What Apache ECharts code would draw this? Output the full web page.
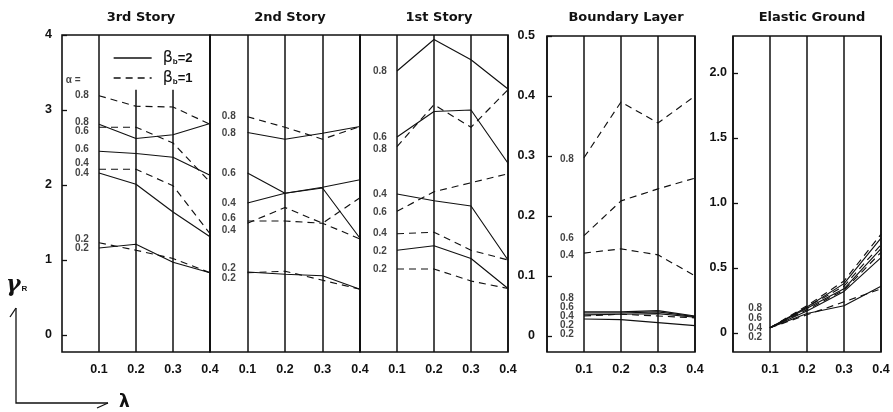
<!DOCTYPE html>
<html>
<head>
<meta charset="utf-8">
<title>Response ratio by story</title>
<script src="https://cdn.jsdelivr.net/npm/echarts@6/dist/echarts.min.js"></script>
<style>
  html, body { margin: 0; padding: 0; background: #fff; }
  #chart { width: 893px; height: 412px; }
</style>
</head>
<body>
<div id="chart"></div>
<script>
// Abscissa: lambda values where every curve is sampled
const lambda = [0.1, 0.2, 0.3, 0.4];

// Row order in every table below: alpha = 0.8, 0.6, 0.4, 0.2
// Solid curves are beta_b = 2, dashed curves are beta_b = 1
const story3Beta2 = [
  [2.81, 2.62, 2.67, 2.82],
  [2.45, 2.42, 2.37, 2.13],
  [2.16, 2.01, 1.64, 1.31],
  [1.16, 1.21, 0.97, 0.83]
];
const story3Beta1 = [
  [3.19, 3.05, 3.04, 2.81],
  [2.77, 2.77, 2.56, 2.04],
  [2.21, 2.21, 1.99, 1.35],
  [1.23, 1.13, 1.02, 0.83]
];

const story2Beta2 = [
  [2.70, 2.61, 2.69, 2.78],
  [2.16, 1.89, 1.96, 1.29],
  [1.76, 1.89, 1.97, 2.07],
  [0.84, 0.81, 0.79, 0.61]
];
const story2Beta1 = [
  [2.91, 2.77, 2.61, 2.78],
  [1.49, 1.70, 1.49, 1.83],
  [1.52, 1.52, 1.49, 1.28],
  [0.83, 0.85, 0.73, 0.61]
];

const story1Beta2 = [
  [3.52, 3.94, 3.67, 3.28],
  [2.64, 2.98, 3.00, 2.29],
  [1.88, 1.79, 1.72, 1.00],
  [1.13, 1.19, 1.02, 0.62]
];
const story1Beta1 = [
  [2.51, 3.07, 2.77, 3.27],
  [1.65, 1.91, 2.03, 2.15],
  [1.35, 1.37, 1.13, 1.00],
  [0.88, 0.88, 0.72, 0.62]
];

const layerBeta2 = [
  [0.040, 0.040, 0.042, 0.033],
  [0.038, 0.038, 0.040, 0.032],
  [0.035, 0.036, 0.037, 0.031],
  [0.028, 0.027, 0.022, 0.017]
];
const layerBeta1 = [
  [0.297, 0.390, 0.355, 0.400],
  [0.167, 0.225, 0.245, 0.263],
  [0.138, 0.145, 0.135, 0.100],
  [0.033, 0.036, 0.033, 0.030]
];

const groundBeta2 = [
  [0.04, 0.20, 0.38, 0.73],
  [0.04, 0.19, 0.34, 0.65],
  [0.04, 0.17, 0.32, 0.58],
  [0.04, 0.15, 0.21, 0.36]
];
const groundBeta1 = [
  [0.04, 0.21, 0.40, 0.76],
  [0.04, 0.20, 0.36, 0.68],
  [0.04, 0.18, 0.33, 0.62],
  [0.04, 0.14, 0.24, 0.34]
];

// alpha tags written beside the curves (text, height on the panel's own scale)
const story3Tags = [['0.8', 3.19], ['0.8', 2.84], ['0.6', 2.72], ['0.6', 2.48], ['0.4', 2.29], ['0.4', 2.16], ['0.2', 1.27], ['0.2', 1.16]];
const story2Tags = [['0.8', 2.92], ['0.8', 2.69], ['0.6', 2.16], ['0.4', 1.76], ['0.6', 1.55], ['0.4', 1.39], ['0.2', 0.89], ['0.2', 0.76]];
const story1Tags = [['0.8', 3.52], ['0.6', 2.64], ['0.8', 2.47], ['0.4', 1.88], ['0.6', 1.63], ['0.4', 1.35], ['0.2', 1.11], ['0.2', 0.87]];
const layerTags  = [['0.8', 0.295], ['0.6', 0.163], ['0.4', 0.135], ['0.8', 0.063], ['0.6', 0.048], ['0.4', 0.033], ['0.2', 0.017], ['0.2', 0.002]];
const groundTags = [['0.8', 0.19], ['0.6', 0.115], ['0.4', 0.04], ['0.2', -0.03]];

// Tick values for the y axes that carry labels
const storyTicks  = [0, 1, 2, 3, 4];
const layerTicks  = [0, 0.1, 0.2, 0.3, 0.4, 0.5];
const groundTicks = [0, 0.5, 1.0, 1.5, 2.0];

const panelTitles = ['3rd Story', '2nd Story', '1st Story', 'Boundary Layer', 'Elastic Ground'];

const INK = '#111';
const LABEL_FONT = 'Liberation Sans, Arial, sans-serif';

const panels = [
  { left: 62,  top: 35, width: 148, height: 317, yMin: -0.227, yMax: 4,     ticks: storyTicks,  b2: story3Beta2, b1: story3Beta1, tags: story3Tags, tagX: 0.054, labelMargin: 10 },
  { left: 210, top: 35, width: 150, height: 317, yMin: -0.227, yMax: 4,     ticks: null,        b2: story2Beta2, b1: story2Beta1, tags: story2Tags, tagX: 0.050 },
  { left: 360, top: 35, width: 148, height: 317, yMin: -0.227, yMax: 4,     ticks: null,        b2: story1Beta2, b1: story1Beta1, tags: story1Tags, tagX: 0.054 },
  { left: 547, top: 36, width: 148, height: 316, yMin: -0.027, yMax: 0.5,   ticks: layerTicks,  b2: layerBeta2,  b1: layerBeta1,  tags: layerTags,  tagX: 0.054, labelMargin: 12 },
  { left: 733, top: 36, width: 148, height: 316, yMin: -0.146, yMax: 2.285, ticks: groundTicks, b2: groundBeta2, b1: groundBeta1, tags: groundTags, tagX: 0.060, labelMargin: 6 }
];

const grid = [], xAxis = [], yAxis = [], series = [], title = [];

panels.forEach((p, i) => {
  grid.push({
    left: p.left, top: p.top, width: p.width, height: p.height,
    show: true, borderColor: INK, borderWidth: 1.6, backgroundColor: 'transparent',
    containLabel: false
  });

  xAxis.push({
    type: 'value', gridIndex: i, min: 0, max: 0.4, interval: 0.1,
    axisLine: { show: false }, axisTick: { show: false },
    splitLine: { show: i !== 0, lineStyle: { color: INK, width: 1.5 } },
    axisLabel: {
      margin: 11, color: INK, fontFamily: LABEL_FONT, fontWeight: 'bold', fontSize: 12.5,
      formatter: v => (v === 0 ? '' : v.toFixed(1))
    }
  });

  const yBase = {
    type: 'value', gridIndex: i, min: p.yMin, max: p.yMax,
    splitLine: { show: false }, axisLine: { show: false }
  };
  if (p.ticks) {
    const intOnly = i === 0;
    yAxis.push(Object.assign(yBase, {
      axisTick: { show: true, inside: true, length: 5, customValues: p.ticks, lineStyle: { color: INK, width: 1.3 } },
      axisLabel: {
        show: true, customValues: p.ticks, margin: p.labelMargin,
        color: INK, fontFamily: LABEL_FONT, fontWeight: 'bold', fontSize: 12.5,
        formatter: v => (v === 0 ? '0' : (intOnly ? String(v) : v.toFixed(1)))
      }
    }));
  } else {
    yAxis.push(Object.assign(yBase, { axisTick: { show: false }, axisLabel: { show: false } }));
  }

  title.push({
    text: panelTitles[i],
    left: p.left + p.width / 2, top: 6, textAlign: 'center',
    textStyle: { fontFamily: 'DejaVu Sans, sans-serif', fontWeight: 'bold', fontSize: 13, color: INK }
  });

  // curves
  [['βb=2', p.b2, 'solid'], ['βb=1', p.b1, 'dashed']].forEach(([name, rows, kind]) => {
    rows.forEach(row => {
      series.push({
        type: 'line', name: name, xAxisIndex: i, yAxisIndex: i,
        data: row.map((v, k) => [lambda[k], v]),
        symbol: 'none', silent: true, z: 3,
        itemStyle: { color: INK },
        lineStyle: { color: INK, width: 1.15, type: kind === 'solid' ? 'solid' : [7, 5] }
      });
    });
  });

  // alpha tags
  const tagData = p.tags.map(([t, y]) => ({ value: [p.tagX, y], name: t }));
  if (i === 0) tagData.push({ value: [0.030, 3.40], name: 'α =' });
  series.push({
    type: 'scatter', xAxisIndex: i, yAxisIndex: i, silent: true,
    symbolSize: 1, itemStyle: { color: 'rgba(0,0,0,0)' },
    data: tagData,
    label: {
      show: true, position: 'inside', formatter: d => d.name,
      color: INK, fontFamily: LABEL_FONT, fontWeight: 'bold', fontSize: 10
    }
  });
});

// 3rd-story verticals: the inner two stop below the legend box
series.push({
  type: 'line', xAxisIndex: 0, yAxisIndex: 0, data: [], silent: true,
  markLine: {
    symbol: 'none', silent: true, animation: false,
    label: { show: false },
    lineStyle: { color: INK, width: 1.5, type: 'solid' },
    data: [
      [{ coord: [0.1, panels[0].yMin] }, { coord: [0.1, panels[0].yMax] }],
      [{ coord: [0.2, panels[0].yMin] }, { coord: [0.2, 3.27] }],
      [{ coord: [0.3, panels[0].yMin] }, { coord: [0.3, 3.27] }]
    ]
  }
});

const option = {
  animation: false,
  backgroundColor: '#fff',
  title: title,
  grid: grid,
  xAxis: xAxis,
  yAxis: yAxis,
  series: series,
  legend: {
    data: ['βb=2', 'βb=1'],
    orient: 'vertical', left: 108, top: 45,
    itemWidth: 38, itemHeight: 14, itemGap: 4,
    selectedMode: false,
    itemStyle: { opacity: 0 },
    lineStyle: { color: INK, width: 1.3 },
    formatter: n => (n === 'βb=2' ? '{g|β}{s|b}{t|=2}' : '{g|β}{s|b}{t|=1}'),
    textStyle: {
      color: INK, padding: [0, 0, 0, 6],
      rich: {
        g: { fontFamily: 'DejaVu Sans, sans-serif', fontSize: 16, color: INK },
        s: { fontFamily: LABEL_FONT, fontSize: 8, fontWeight: 'bold', color: INK, verticalAlign: 'bottom', padding: [6, 0, 0, 0] },
        t: { fontFamily: LABEL_FONT, fontSize: 13, fontWeight: 'bold', color: INK }
      }
    }
  },
  graphic: [
    { type: 'polyline', silent: true, shape: { points: [[16, 308], [16, 403], [108, 403]] }, style: { stroke: INK, lineWidth: 1.3, fill: null } },
    { type: 'line', silent: true, shape: { x1: 16, y1: 308, x2: 10, y2: 317 }, style: { stroke: INK, lineWidth: 1.3 } },
    { type: 'line', silent: true, shape: { x1: 108, y1: 403, x2: 97, y2: 408 }, style: { stroke: INK, lineWidth: 1.3 } },
    {
      type: 'text', silent: true, left: 6, top: 274,
      style: {
        text: '{g|γ}{r|R}',
        rich: {
          g: { fontFamily: 'DejaVu Serif, serif', fontStyle: 'italic', fontSize: 22, fill: INK, fontWeight: 'bold' },
          r: { fontFamily: LABEL_FONT, fontSize: 8, fontWeight: 'bold', fill: INK, padding: [8, 0, 0, 1] }
        }
      }
    },
    {
      type: 'text', silent: true, left: 119, top: 394,
      style: { text: 'λ', fontFamily: 'DejaVu Sans, sans-serif', fontSize: 17, fontWeight: 'bold', fill: INK }
    }
  ]
};

const chart = echarts.init(document.getElementById('chart'), null, { renderer: 'canvas' });
chart.setOption(option);
</script>
</body>
</html>
